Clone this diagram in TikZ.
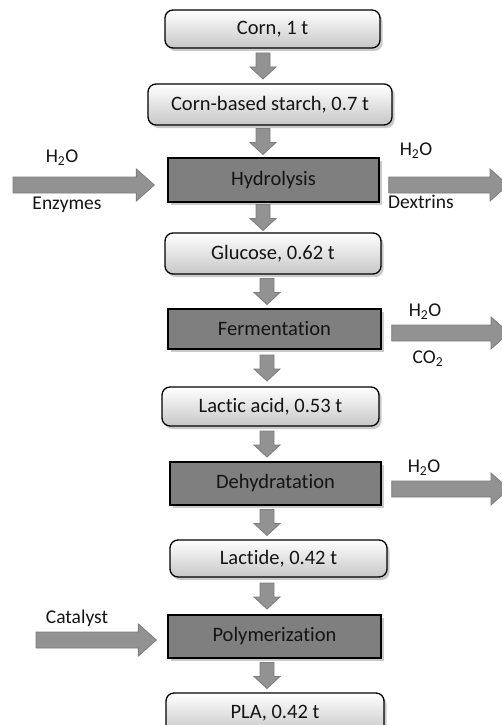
\documentclass[tikz,border=0pt]{standalone}
\usepackage{fontspec}
\setmainfont{Carlito}[Ligatures={NoCommon}]
\usetikzlibrary{calc,shadows}
\definecolor{arrowfill}{HTML}{929292}
\definecolor{arrowline}{HTML}{7C7C7C}
\definecolor{procfill}{HTML}{7F7F7F}
\definecolor{txt}{HTML}{141414}
\tikzset{
  boxshadow/.style={drop shadow={shadow xshift=2.5pt,shadow yshift=-3pt,opacity=0.35,fill=black!60}},
  prodbox/.style={rounded corners=8pt,draw=black,line width=1.3pt,top color=white,bottom color=black!22,
    boxshadow,inner sep=0pt,text=txt,font=\fontsize{20.5}{24}\selectfont},
  procbox/.style={draw=black,line width=1.3pt,fill=procfill,boxshadow,inner sep=0pt,text=txt,
    font=\fontsize{20.5}{24}\selectfont},
  lbl/.style={inner sep=0pt,text=txt,font=\fontsize{19.5}{22}\selectfont},
  flowarrow/.style={fill=arrowfill,draw=arrowline,line width=0.8pt,line join=miter}
}
% vertical block arrow between two named nodes, at the x of a named coordinate
\newcommand{\flowv}[3]{%
  \path[flowarrow] let \p1=($(#1.south)!0.5!(#2.north)$), \p2=(#3) in
    (\x2-7pt,\y1+13pt) -- (\x2+7pt,\y1+13pt) -- (\x2+7pt,\y1-1pt) -- (\x2+13pt,\y1-1pt)
    -- (\x2,\y1-13pt) -- (\x2-13pt,\y1-1pt) -- (\x2-7pt,\y1-1pt) -- cycle;}
% horizontal block arrow from #1 (tail) to #2 (tip)
\newcommand{\flowh}[2]{%
  \path[flowarrow] let \p1=(#1), \p2=(#2) in
    (\x1,\y1+8pt) -- (\x2-18pt,\y1+8pt) -- (\x2-18pt,\y1+16pt) -- (\x2,\y1)
    -- (\x2-18pt,\y1-16pt) -- (\x2-18pt,\y1-8pt) -- (\x1,\y1-8pt) -- cycle;}
\begin{document}
\begin{tikzpicture}[x=1pt,y=-1pt]
\useasboundingbox (0,0) rectangle (501,725);
% nodes
\node[prodbox,minimum width=215pt,minimum height=38pt] (corn) at (272.5,29) {Corn, 1 t};
\node[prodbox,minimum width=244pt,minimum height=41pt] (starch) at (270,104.5) {Corn-based starch, 0.7 t};
\node[procbox,minimum width=211pt,minimum height=44pt] (hyd) at (273.5,180) {Hydrolysis};
\node[prodbox,minimum width=216pt,minimum height=41pt] (glu) at (273,253.5) {Glucose, 0.62 t};
\node[procbox,minimum width=213pt,minimum height=40pt] (ferm) at (274.5,329) {Fermentation};
\node[prodbox,minimum width=217pt,minimum height=39pt] (lac) at (270.5,406.5) {Lactic acid, 0.53 t};
\node[procbox,minimum width=211pt,minimum height=43pt] (dehyd) at (275.5,483.5) {Dehydratation};
\node[prodbox,minimum width=217pt,minimum height=37pt] (lactide) at (278.5,558.5) {Lactide, 0.42 t};
\node[procbox,minimum width=213pt,minimum height=43pt] (poly) at (274.5,636.5) {Polymerization};
\node[prodbox,minimum width=218pt,minimum height=40pt] (pla) at (275,713) {PLA, 0.42 t};
% labels
\node[lbl] (hin1) at (62,158) {H\textsubscript{2}O};
\node[lbl] (hin2) at (67,205) {Enzymes};
\node[lbl] (hout1) at (416,151) {H\textsubscript{2}O};
\node[lbl] (hout2) at (421,202) {Dextrins};
\node[lbl] (fout1) at (425,312) {H\textsubscript{2}O};
\node[lbl] (fout2) at (428,359) {CO\textsubscript{2}};
\node[lbl] (dout1) at (424,468) {H\textsubscript{2}O};
\node[lbl] (pin1) at (77,618) {Catalyst};
% coordinates for arrow columns and free ends
\coordinate (xa) at (263,0);
\coordinate (xb) at (267,0);
\coordinate (hydin) at (13,185);
\coordinate (hydout) at (508,185);
\coordinate (fermout) at (509,333);
\coordinate (dehydout) at (509,489);
\coordinate (polyin) at (36,640);
% vertical flow arrows
\flowv{corn}{starch}{xa}
\flowv{starch}{hyd}{xa}
\flowv{hyd}{glu}{xa}
\flowv{glu}{ferm}{xb}
\flowv{ferm}{lac}{xb}
\flowv{lac}{dehyd}{xb}
\flowv{dehyd}{lactide}{xb}
\flowv{lactide}{poly}{xb}
\flowv{poly}{pla}{xb}
% side arrows
\flowh{hydin}{$(hyd.west|-hydin)+(-13pt,0)$}
\flowh{$(hyd.east|-hydout)+(9pt,0)$}{hydout}
\flowh{$(ferm.east|-fermout)+(10pt,0)$}{fermout}
\flowh{$(dehyd.east|-dehydout)+(10pt,0)$}{dehydout}
\flowh{polyin}{$(poly.west|-polyin)+(-11pt,0)$}
\end{tikzpicture}
\end{document}
